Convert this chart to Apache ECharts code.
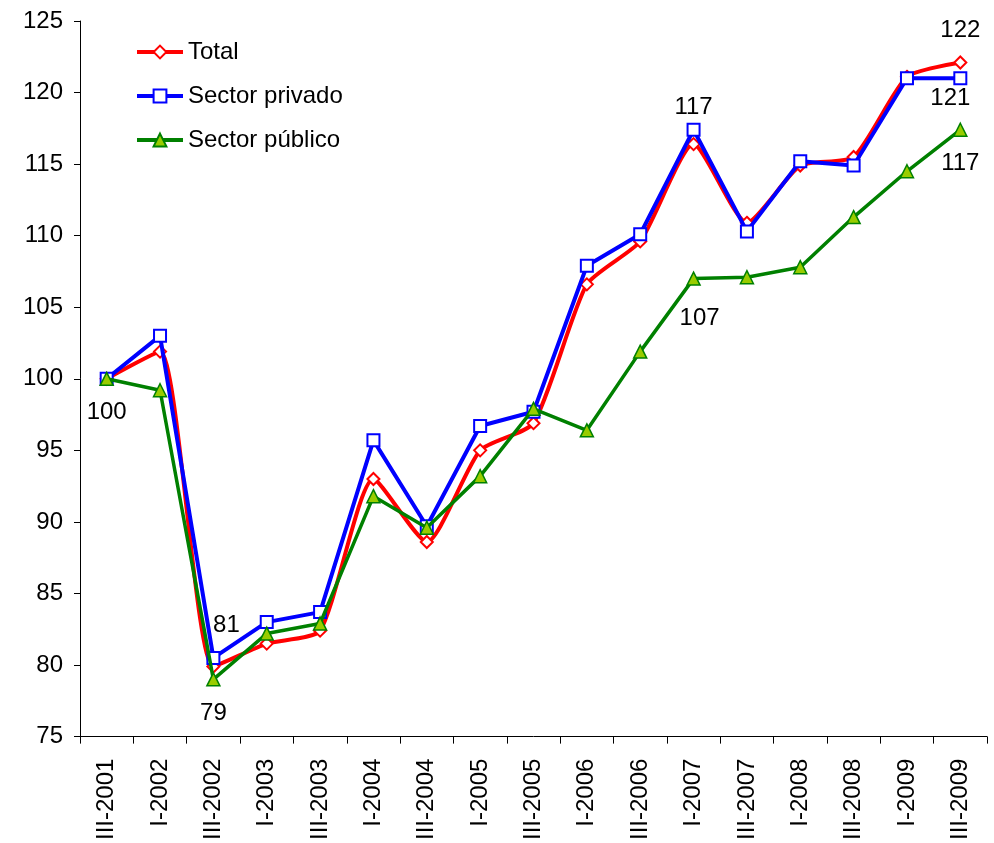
<!DOCTYPE html>
<html>
<head>
<meta charset="utf-8">
<script src="https://cdn.jsdelivr.net/npm/echarts@6/dist/echarts.min.js"></script>
<style>
  html, body { margin: 0; padding: 0; background: #fff; }
  #chart { width: 994px; height: 843px; }
</style>
</head>
<body>
<div id="chart"></div>
<script>
// categorías (semestres)
const categories = ["III-2001", "I-2002", "III-2002", "I-2003", "III-2003", "I-2004", "III-2004", "I-2005", "III-2005",
  "I-2006", "III-2006", "I-2007", "III-2007", "I-2008", "III-2008", "I-2009", "III-2009"];
// índices (base III-2001 = 100)
const total = [100, 101.9, 79.9, 81.5, 82.4, 93.0, 88.6, 95.0, 96.9, 106.6, 109.6, 116.4, 110.9, 114.9, 115.5, 121.1, 122.1];
const privado = [100, 103.0, 80.5, 83.0, 83.7, 95.7, 89.7, 96.7, 97.7, 107.9, 110.1, 117.4, 110.3, 115.2, 114.9, 121.0, 121.0];
const publico = [100, 99.2, 79.0, 82.2, 82.9, 91.8, 89.6, 93.2, 97.9, 96.4, 101.9, 107.0, 107.1, 107.8, 111.3, 114.5, 117.4];
// puntos con etiqueta
const totalLabels = [16];
const privadoLabels = [2, 11, 16];
const publicoLabels = [0, 2, 11, 16];

const FONT = "Liberation Sans, Arial, sans-serif";

// posición de cada etiqueta
const labelStyle = {
  total: { 16: { position: "top", offset: [0, -8] } },
  privado: { 2: { position: "top", offset: [13, -9] }, 11: { position: "top", offset: [0, 2] }, 16: { position: "bottom", offset: [-10, -4] } },
  publico: { 0: { position: "bottom", offset: [0, 9] }, 2: { position: "bottom", offset: [0, 10] }, 11: { position: "bottom", offset: [6, 16] }, 16: { position: "bottom", offset: [0, 9] } }
};

const buildData = (values, idx, key) =>
  values.map((v, i) => {
    if (!idx.includes(i)) return v;
    return {
      value: v,
      label: Object.assign({
        show: true,
        color: "#000",
        fontSize: 24,
        fontFamily: FONT,
        formatter: (p) => Math.round(p.value)
      }, labelStyle[key][i])
    };
  });

const chart = echarts.init(document.getElementById("chart"));

const option = {
  backgroundColor: "#fff",
  animation: false,
  textStyle: { fontFamily: FONT },
  grid: { left: 80, right: 7, top: 21, bottom: 105 },
  legend: {
    orient: "vertical",
    left: 130,
    top: 35,
    itemWidth: 46,
    itemHeight: 16,
    itemGap: 20,
    itemTextGap: 4,
    lineStyle: { width: 4 },
    textStyle: { fontSize: 24, color: "#000", fontFamily: FONT },
    data: ["Total", "Sector privado", "Sector público"]
  },
  xAxis: {
    type: "category",
    data: categories,
    boundaryGap: true,
    axisLine: { lineStyle: { color: "#000", width: 1 } },
    axisTick: { show: true, length: 7, inside: false, lineStyle: { color: "#000" } },
    axisLabel: { rotate: 90, fontSize: 24, color: "#000", fontFamily: FONT, margin: 22 },
    splitLine: { show: false }
  },
  yAxis: {
    type: "value",
    min: 75,
    max: 125,
    interval: 5,
    axisLine: { show: true, lineStyle: { color: "#000", width: 1 } },
    axisTick: { show: true, length: 6, lineStyle: { color: "#000" } },
    axisLabel: { fontSize: 24, color: "#000", fontFamily: FONT, margin: 17 },
    splitLine: { show: false }
  },
  series: [
    {
      name: "Total",
      type: "line",
      z: 2,
      smooth: 0.2,
      data: buildData(total, totalLabels, "total"),
      symbol: "diamond",
      symbolSize: 12,
      lineStyle: { color: "#ff0000", width: 4 },
      itemStyle: { color: "#fff", borderColor: "#ff0000", borderWidth: 2 }
    },
    {
      name: "Sector privado",
      type: "line",
      z: 3,
      data: buildData(privado, privadoLabels, "privado"),
      symbol: "rect",
      symbolSize: 12,
      lineStyle: { color: "#0000ff", width: 4 },
      itemStyle: { color: "#fff", borderColor: "#0000ff", borderWidth: 2 }
    },
    {
      name: "Sector público",
      type: "line",
      z: 4,
      data: buildData(publico, publicoLabels, "publico"),
      symbol: "triangle",
      symbolSize: 13,
      lineStyle: { color: "#008000", width: 3.5 },
      itemStyle: { color: "#99cc00", borderColor: "#008000", borderWidth: 1.5 }
    }
  ]
};

chart.setOption(option);
</script>
</body>
</html>
